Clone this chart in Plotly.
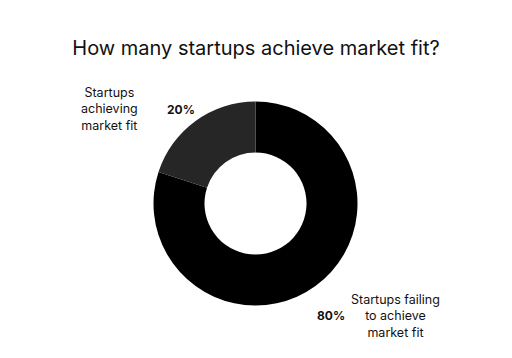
import plotly.graph_objects as go

categories = ["Startups failing<br>to achieve<br>market fit", "Startups<br>achieving<br>market fit"]
values = [80, 20]
colors = ["#000000", "#262626"]

W, H = 512, 358
cx, cy, r = 255.5, 203.5, 102

fig = go.Figure(go.Pie(
    labels=categories,
    values=values,
    hole=0.5,
    sort=False,
    direction="clockwise",
    rotation=0,
    marker=dict(colors=colors, line=dict(width=0)),
    textinfo="none",
    hoverinfo="label+percent",
    showlegend=False,
    domain=dict(x=[(cx - r) / W, (cx + r) / W], y=[(H - cy - r) / H, (H - cy + r) / H]),
))

font_family = "Inter, Lato, sans-serif"
total = sum(values)
pct = [f"<b>{round(v / total * 100)}%</b>" for v in values]

# label annotations (positions in paper coords)
label_pos = [(395, 316), (109, 109)]
pct_pos = [(331, 315), (181, 109)]
for i in range(len(values)):
    lx, ly = label_pos[i]
    px, py = pct_pos[i]
    fig.add_annotation(x=lx / W, y=1 - ly / H, xref="paper", yref="paper",
                       xanchor="center", yanchor="middle",
                       text=categories[i], showarrow=False, align="center",
                       font=dict(size=12.5, color="#111111", family=font_family))
    fig.add_annotation(x=px / W, y=1 - py / H, xref="paper", yref="paper",
                       xanchor="center", yanchor="middle",
                       text=pct[i], showarrow=False,
                       font=dict(size=12, color="#111111", family=font_family))

fig.update_layout(
    width=W, height=H,
    margin=dict(l=0, r=0, t=0, b=0),
    paper_bgcolor="white", plot_bgcolor="white",
    title=dict(text="How many startups achieve market fit?", x=0.5, xanchor="center",
               y=1 - 48 / H, yanchor="middle",
               font=dict(size=20, color="#111111", family=font_family)),
)

fig.write_html("out.html", config={"displayModeBar": False},
               post_script="document.body.style.margin='0';")
